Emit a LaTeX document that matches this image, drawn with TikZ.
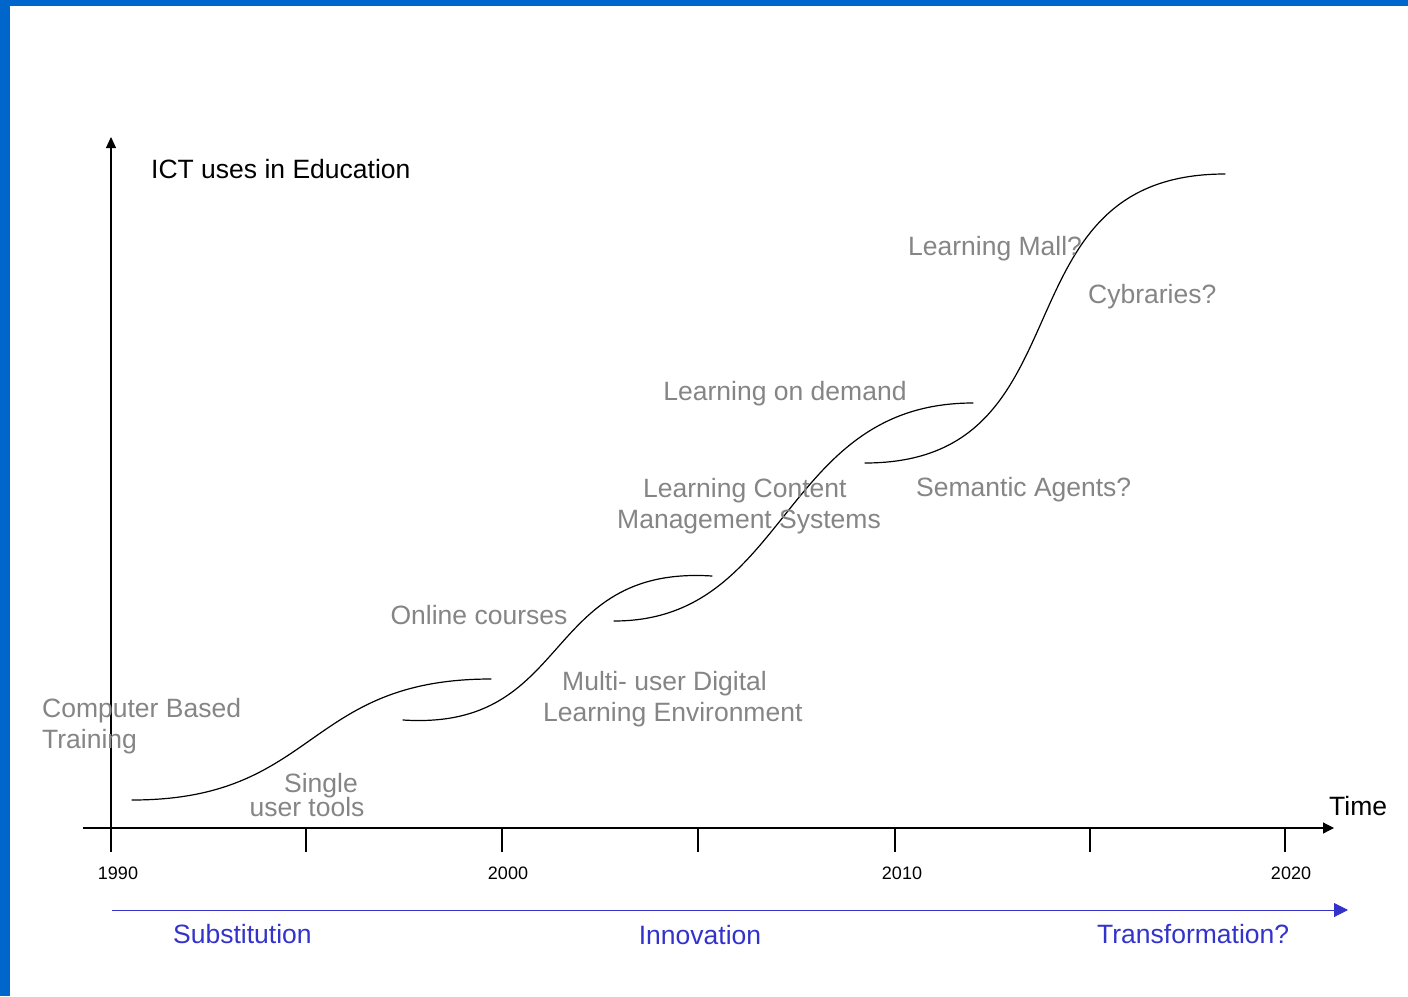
\documentclass[tikz,border=0pt]{standalone}
\usepackage{fontspec}
\setmainfont{Liberation Sans}
\usetikzlibrary{arrows.meta}
\definecolor{frameblue}{HTML}{0066CC}
\definecolor{labelgray}{HTML}{858585}
\definecolor{phaseblue}{HTML}{3333CC}
\begin{document}
\begin{tikzpicture}[x=1pt,y=-1pt,
  big/.style={font=\fontsize{26.5}{31}\selectfont, inner sep=0pt},
  lbl/.style={big, text=labelgray},
  phase/.style={big, text=phaseblue},
  yearlbl/.style={font=\fontsize{18}{22}\selectfont, inner sep=0pt, anchor=base},
  axisline/.style={line width=1.2pt, black},
  tickline/.style={line width=1.2pt, black},
  scurve/.style={line width=1.2pt, black, line cap=round}]
\useasboundingbox (0,0) rectangle (1408,996);
\fill[white] (0,0) rectangle (1408,996);
\fill[frameblue] (0,0) rectangle (1408,6);
\fill[frameblue] (0,0) rectangle (10,996);

% axes
\coordinate (xs) at (83,828);
\coordinate (xe) at (1334,828);
\coordinate (ys) at (111,852);
\coordinate (ye) at (111,137);
\draw[axisline,-{Triangle[length=11pt,width=11pt]}] (xs) -- (xe);
\draw[axisline,-{Triangle[length=11pt,width=10pt]}] (ys) -- (ye);
\foreach \x in {306,502,698,895,1090,1285}
  \draw[tickline] (\x,828) -- (\x,852);

\node[yearlbl] (y1990) at (118,879) {1990};
\node[yearlbl] (y2000) at (508,879) {2000};
\node[yearlbl] (y2010) at (902,879) {2010};
\node[yearlbl] (y2020) at (1291,879) {2020};

\node[big, anchor=base west] (ylabel) at (151,178) {ICT uses in Education};
\node[big, anchor=base west] (xlabel) at (1329,815) {Time};

% phase arrow
\coordinate (ps) at (112,910);
\coordinate (pe) at (1348,910);
\draw[line width=1pt, phaseblue, -{Triangle[length=14pt,width=14pt]}] (ps) -- (pe);
\node[phase, anchor=base west] (sub) at (173,943) {Substitution};
\node[phase, anchor=base] (inn) at (700,944) {Innovation};
\node[phase, anchor=base west] (tra) at (1097,943) {Transformation?};

% s-curves
\coordinate (c1s) at (132,800); \coordinate (c1e) at (491,679);
\coordinate (c2s) at (403,720); \coordinate (c2e) at (712,576);
\coordinate (c3s) at (614,621); \coordinate (c3e) at (973,403);
\coordinate (c4s) at (865,463); \coordinate (c4e) at (1225,174);
\draw[scurve] (c1s) .. controls (318,800) and (304,679) .. (c1e);
\draw[scurve] (c2s) .. controls (574,731) and (540,565) .. (c2e);
\draw[scurve] (c3s) .. controls (790,621) and (780,403) .. (c3e);
\draw[scurve] (c4s) .. controls (1094,463) and (991,174) .. (c4e);

% labels
\node[lbl, anchor=base west] (cbt1) at (42,717) {Computer Based};
\node[lbl, anchor=base west] (cbt2) at (42,748) {Training};
\node[lbl, anchor=base] (sut1) at (321,792) {Single};
\node[lbl, anchor=base] (sut2) at (307,816) {user tools};
\node[lbl, anchor=base] (onl) at (479,624) {Online courses};
\node[lbl, anchor=base west] (mud1) at (562,690) {Multi- user Digital};
\node[lbl, anchor=base west] (mud2) at (543,721) {Learning Environment};
\node[lbl, anchor=base west] (lcm1) at (643,497) {Learning Content};
\node[lbl, anchor=base west] (lcm2) at (617,528) {Management Systems};
\node[lbl, anchor=base] (lod) at (785,400) {Learning on demand};
\node[lbl, anchor=base west] (sem) at (916,496) {Semantic Agents?};
\node[lbl, anchor=base west] (mall) at (908,255) {Learning Mall?};
\node[lbl, anchor=base west] (cyb) at (1088,303) {Cybraries?};
\end{tikzpicture}
\end{document}
